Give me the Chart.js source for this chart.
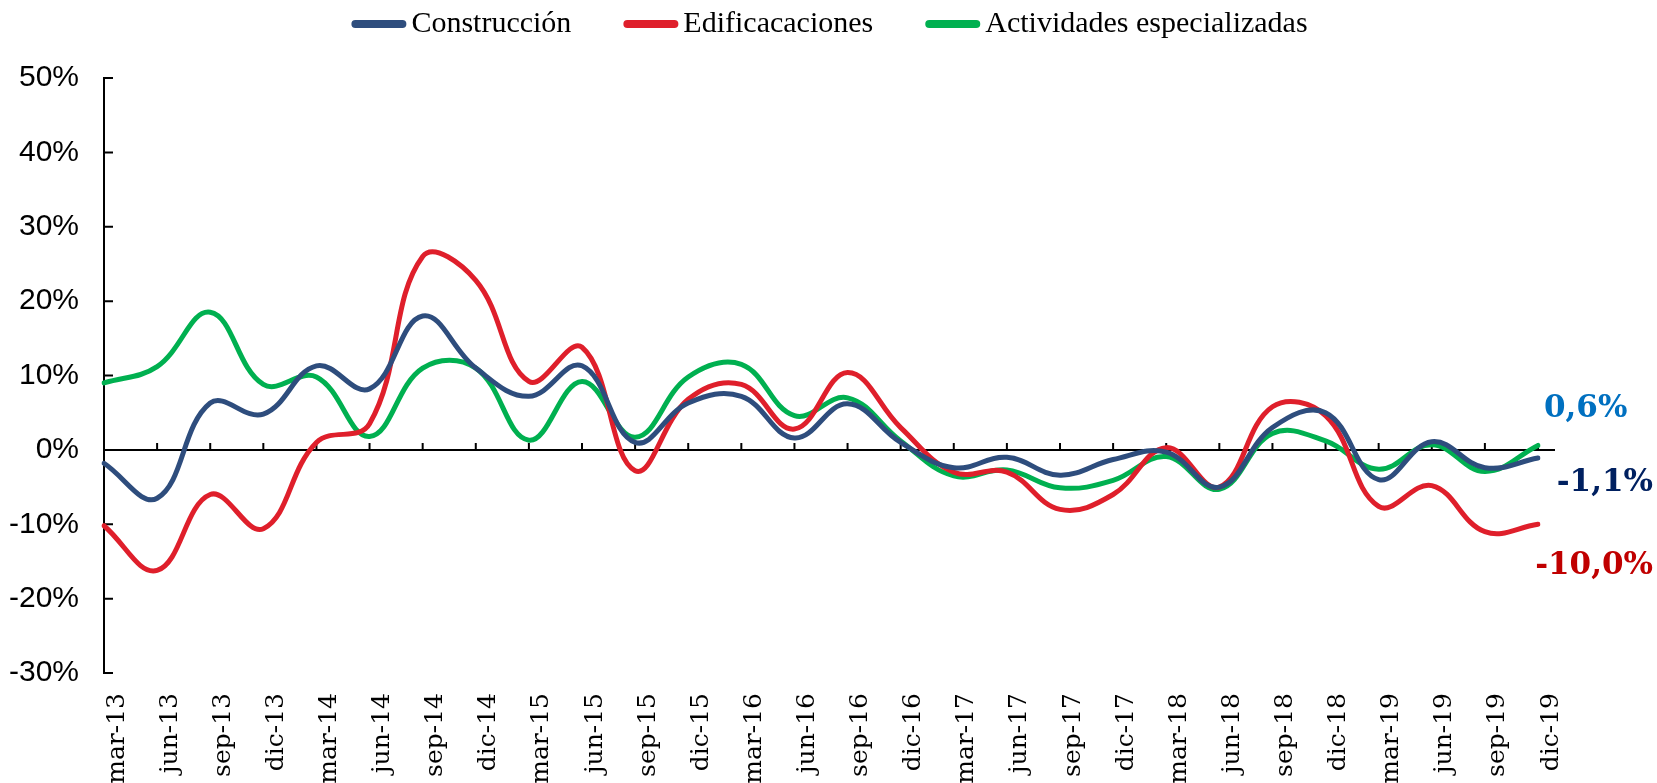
<!DOCTYPE html>
<html lang="es">
<head>
<meta charset="utf-8">
<title>Construcción</title>
<script src="https://cdn.jsdelivr.net/npm/chart.js@4.4.1/dist/chart.umd.min.js"></script>
<style>
  html, body { margin: 0; padding: 0; background: #fff; }
  #wrap { width: 1657px; height: 783px; }
</style>
</head>
<body>
<div id="wrap"><canvas id="grafico" width="1657" height="783"></canvas></div>
<script>
// Trimestres
const trimestres = ['mar-13', 'jun-13', 'sep-13', 'dic-13', 'mar-14', 'jun-14', 'sep-14', 'dic-14',
    'mar-15', 'jun-15', 'sep-15', 'dic-15', 'mar-16', 'jun-16', 'sep-16', 'dic-16',
    'mar-17', 'jun-17', 'sep-17', 'dic-17', 'mar-18', 'jun-18', 'sep-18', 'dic-18',
    'mar-19', 'jun-19', 'sep-19', 'dic-19'];

// Variación anual (%)
const construccion = [-1.8, -6.5, 6.3, 4.8, 11.3, 8.2, 18.0, 11.0, 7.2, 11.3, 1.0, 6.3, 7.2, 1.6,
    6.2, 1.0, -2.4, -1.0, -3.4, -1.3, -0.3, -5.0, 3.0, 5.0, -4.0, 1.1, -2.4, -1.1];
const edificaciones = [-10.2, -16.2, -6.0, -10.6, 1.0, 3.5, 26.0, 22.8, 9.2, 13.8, -2.8, 6.8, 8.8, 2.8,
    10.4, 3.0, -3.0, -3.0, -8.0, -6.0, 0.3, -5.0, 5.8, 4.6, -7.6, -4.8, -11.0, -10.0];
const actividades = [9.0, 11.2, 18.5, 8.8, 9.8, 1.8, 11.0, 11.0, 1.3, 9.2, 1.7, 9.8, 11.5, 4.6,
    7.0, 1.2, -3.5, -2.7, -5.1, -4.1, -0.9, -5.3, 2.2, 1.2, -2.6, 0.7, -2.9, 0.6];

// Marcas del eje Y
const marcasY = [-30, -20, -10, 0, 10, 20, 30, 40, 50];

const formato = v => v.toFixed(1).replace('.', ',') + '%';

// Línea del cero con sus marcas y marcas interiores del eje Y
const ejes = {
    id: 'ejes',
    beforeDatasetsDraw(chart) {
        const { ctx, chartArea, scales } = chart;
        const y0 = scales.y.getPixelForValue(0);
        ctx.save();
        ctx.strokeStyle = '#000';
        ctx.lineWidth = 2;
        ctx.beginPath();
        ctx.moveTo(chartArea.left, y0);
        ctx.lineTo(chartArea.right + 17, y0);
        trimestres.forEach((t, i) => {
            const x = scales.x.getPixelForValue(i);
            ctx.moveTo(x, y0);
            ctx.lineTo(x, y0 - 7);
        });
        marcasY.forEach(v => {
            const y = scales.y.getPixelForValue(v);
            ctx.moveTo(chartArea.left, y);
            ctx.lineTo(chartArea.left + 9, y);
        });
        ctx.stroke();
        ctx.restore();
    }
};

// Valores del último trimestre
const etiquetasFinales = {
    id: 'etiquetasFinales',
    afterDatasetsDraw(chart) {
        const ctx = chart.ctx;
        ctx.save();
        ctx.font = 'bold 31px "DejaVu Serif"';
        ctx.textBaseline = 'middle';
        chart.data.datasets.forEach((ds, i) => {
            const meta = chart.getDatasetMeta(i);
            const p = meta.data[meta.data.length - 1];
            const e = ds.etiqueta;
            ctx.fillStyle = e.color;
            ctx.textAlign = e.align;
            ctx.fillText(formato(ds.data[ds.data.length - 1]), p.x + e.dx, p.y + e.dy);
        });
        ctx.restore();
    }
};

// Leyenda superior
const leyenda = {
    id: 'leyenda',
    afterDraw(chart) {
        const ctx = chart.ctx;
        ctx.save();
        ctx.font = '30px "Liberation Serif"';
        ctx.textBaseline = 'middle';
        ctx.textAlign = 'left';
        const muestra = 55, hueco = 5, separacion = 52, y = 24;
        const anchos = chart.data.datasets.map(ds => ctx.measureText(ds.label).width);
        const total = anchos.reduce((s, w) => s + muestra + hueco + w, 0) + separacion * (anchos.length - 1);
        let x = chart.width / 2 - total / 2 + 1;
        chart.data.datasets.forEach((ds, i) => {
            ctx.strokeStyle = ds.borderColor;
            ctx.lineWidth = 8;
            ctx.lineCap = 'round';
            ctx.beginPath();
            ctx.moveTo(x + 4, y);
            ctx.lineTo(x + muestra - 4, y);
            ctx.stroke();
            ctx.fillStyle = '#000';
            ctx.fillText(ds.label, x + muestra + hueco, y);
            x += muestra + hueco + anchos[i] + separacion;
        });
        ctx.restore();
    }
};

const ctx = document.getElementById('grafico').getContext('2d');
const grafico = new Chart(ctx, {
    type: 'line',
    data: {
        labels: trimestres,
        datasets: [
            {
                label: 'Construcción',
                data: construccion,
                borderColor: '#2E4D7D',
                etiqueta: { color: '#002060', dx: 115, dy: 25, align: 'right' }
            },
            {
                label: 'Edificacaciones',
                data: edificaciones,
                borderColor: '#DF1F2B',
                etiqueta: { color: '#C00000', dx: 115, dy: 42, align: 'right' }
            },
            {
                label: 'Actividades especializadas',
                data: actividades,
                borderColor: '#00B050',
                etiqueta: { color: '#0070C0', dx: 6, dy: -36, align: 'left' }
            }
        ]
    },
    options: {
        responsive: false,
        animation: false,
        layout: {
            padding: { top: 78, right: 119, left: 0, bottom: 0 }
        },
        elements: {
            line: { borderWidth: 5, tension: 0.4, fill: false, borderCapStyle: 'round' },
            point: { radius: 0 }
        },
        plugins: {
            legend: { display: false },
            tooltip: { enabled: false }
        },
        scales: {
            x: {
                grid: { display: false },
                border: { display: false },
                ticks: {
                    autoSkip: false,
                    maxRotation: 90,
                    minRotation: 90,
                    padding: 12,
                    labelOffset: 13,
                    color: '#000',
                    font: { family: '"DejaVu Serif"', size: 25 }
                },
                afterFit: s => { s.height = 110; }
            },
            y: {
                min: -30,
                max: 50,
                grid: { display: false, drawTicks: false },
                border: { display: true, color: '#000', width: 2 },
                afterBuildTicks: s => { s.ticks = marcasY.map(v => ({ value: v })); },
                ticks: {
                    padding: 25,
                    color: '#000',
                    font: { family: '"Liberation Sans", Arial, sans-serif', size: 30 },
                    callback: v => v + '%'
                },
                afterFit: s => { s.width = 104; }
            }
        }
    },
    plugins: [ejes, etiquetasFinales, leyenda]
});
</script>
</body>
</html>
